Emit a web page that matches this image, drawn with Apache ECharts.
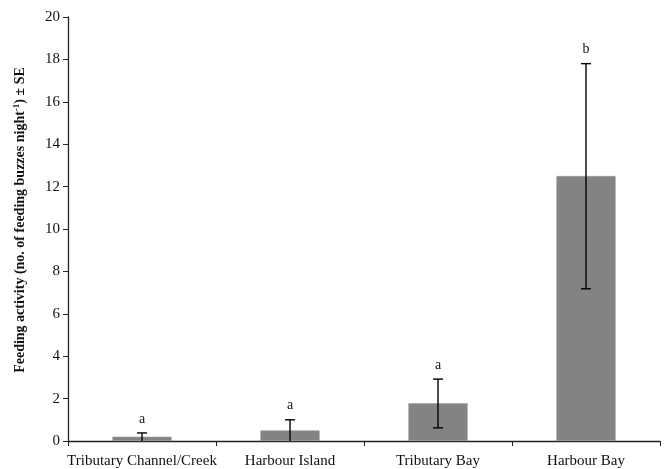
<!DOCTYPE html>
<html>
<head>
<meta charset="utf-8">
<script src="https://cdn.jsdelivr.net/npm/echarts@6/dist/echarts.min.js"></script>
<style>
  html, body { margin: 0; padding: 0; background: #fff; }
  #chart { width: 672px; height: 469px; }
</style>
</head>
<body>
<div id="chart"></div>
<script>
// Habitat categories and mean feeding activity
const categories = ['Tributary Channel/Creek', 'Harbour Island', 'Tributary Bay', 'Harbour Bay'];
const means = [0.2, 0.5, 1.78, 12.5];
// Error bar ends (mean ± SE, truncated at zero)
const errLow = [0, 0, 0.62, 7.18];
const errHigh = [0.38, 1.0, 2.92, 17.8];
// Significance group letters
const groups = ['a', 'a', 'a', 'b'];

const FONT = '"Liberation Serif", "Times New Roman", serif';

const chart = echarts.init(document.getElementById('chart'));

const errData = categories.map((c, i) => [i, errLow[i], errHigh[i], groups[i]]);

chart.setOption({
  animation: false,
  grid: { left: 68, right: 12, top: 17, bottom: 27 },
  xAxis: {
    type: 'category',
    data: categories,
    boundaryGap: true,
    axisLine: { lineStyle: { color: '#222', width: 1.3 } },
    axisTick: { show: true, length: 5, alignWithLabel: false, lineStyle: { color: '#222' } },
    axisLabel: { color: '#111', fontFamily: FONT, fontSize: 15, margin: 13, interval: 0 }
  },
  yAxis: {
    type: 'value',
    min: 0, max: 20, interval: 2,
    name: '{t|Feeding activity (no. of feeding buzzes night}{s|-1}{t|) ± SE}',
    nameLocation: 'middle',
    nameGap: 40,
    nameRotate: 90,
    nameTextStyle: {
      padding: [0, 0, 0, 18],
      rich: {
        t: { fontFamily: FONT, fontSize: 14, fontWeight: 'bold', color: '#111' },
        s: { fontFamily: FONT, fontSize: 9, fontWeight: 'bold', color: '#111', padding: [0, 0, 7, 0] }
      }
    },
    axisLine: { show: true, lineStyle: { color: '#222', width: 1.3 } },
    axisTick: { show: true, length: 5, lineStyle: { color: '#222' } },
    axisLabel: { color: '#111', fontFamily: FONT, fontSize: 15, margin: 8 },
    splitLine: { show: false }
  },
  series: [
    {
      type: 'bar',
      data: means,
      barWidth: '40%',
      itemStyle: { color: '#838383', borderColor: '#9a9a9a', borderWidth: 0.6 }
    },
    {
      type: 'custom',
      data: errData,
      z: 5,
      renderItem: function (params, api) {
        const x = api.coord([api.value(0), 0])[0];
        const yLo = api.coord([api.value(0), api.value(1)])[1];
        const yHi = api.coord([api.value(0), api.value(2)])[1];
        const cap = 5;
        const style = { stroke: '#000', lineWidth: 1.4 };
        const children = [
          { type: 'line', shape: { x1: x, y1: yHi, x2: x, y2: yLo }, style: style },
          { type: 'line', shape: { x1: x - cap, y1: yHi, x2: x + cap, y2: yHi }, style: style },
          {
            type: 'text',
            style: {
              text: api.value(3), x: x, y: yHi - 7,
              textAlign: 'center', textVerticalAlign: 'bottom',
              font: '14px ' + FONT, fill: '#111'
            }
          }
        ];
        if (api.value(1) > 0) {
          children.push({ type: 'line', shape: { x1: x - cap, y1: yLo, x2: x + cap, y2: yLo }, style: style });
        }
        return { type: 'group', children: children };
      }
    }
  ]
});
</script>
</body>
</html>
